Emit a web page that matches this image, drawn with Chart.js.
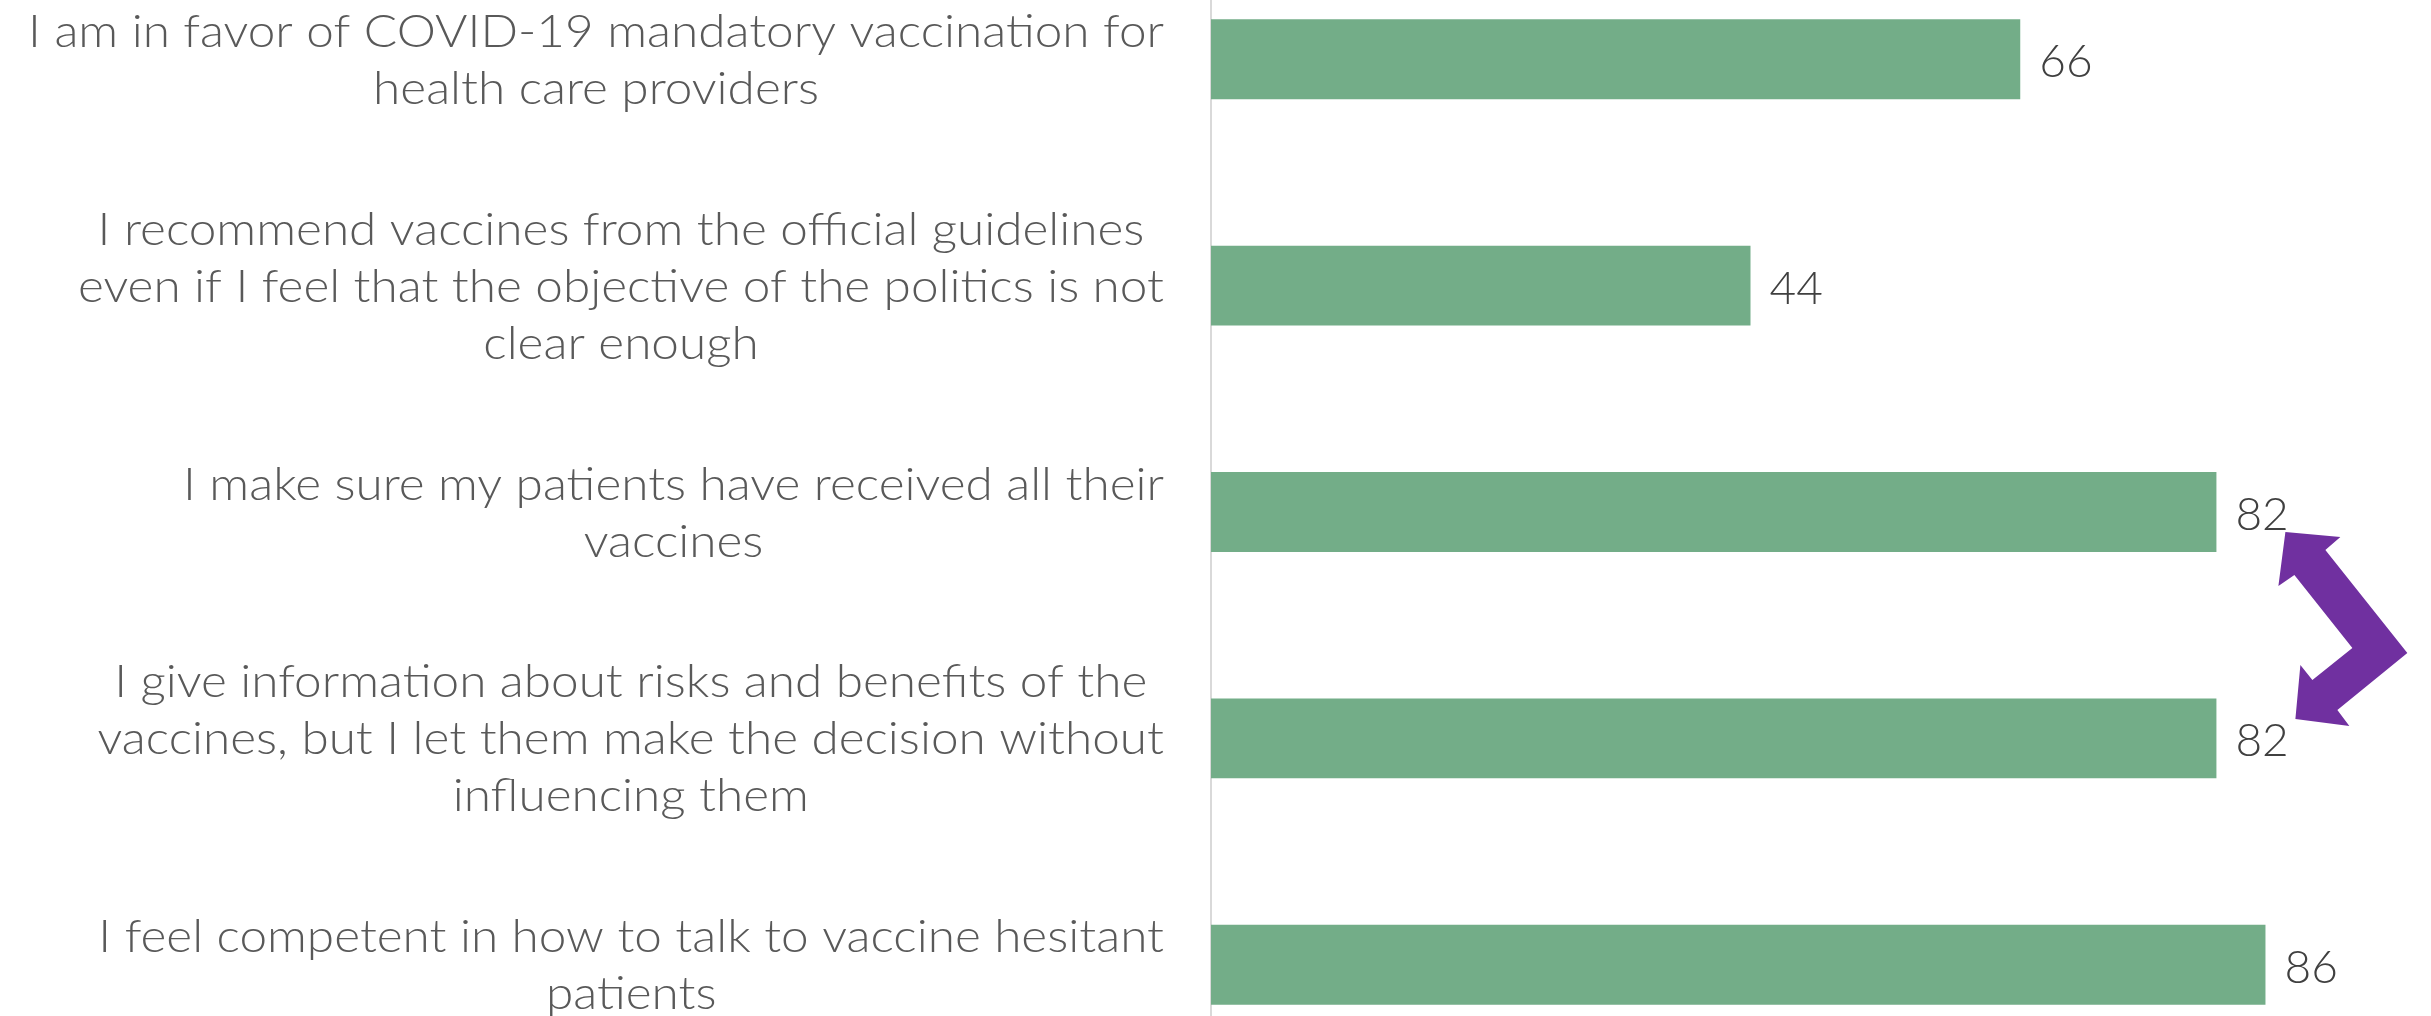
<!DOCTYPE html>
<html>
<head>
<meta charset="utf-8">
<script src="https://cdn.jsdelivr.net/npm/chart.js@4.4.0/dist/chart.umd.min.js"></script>
<style>
  html, body { margin: 0; padding: 0; background: #fff; overflow: hidden; }
  body { width: 2431px; height: 1016px; position: relative; }
  #wrap { position: absolute; left: 0; top: -54px; width: 2431px; height: 1132px; }
</style>
</head>
<body>
<div id="wrap"><canvas id="chart"></canvas></div>
<script>
const statements = [
  ["I am in favor of COVID-19 mandatory vaccination for", "health care providers"],
  ["I recommend vaccines from the official guidelines", "even if I feel that the objective of the politics is not", "clear enough"],
  ["I make sure my patients have received all their", "vaccines"],
  ["I give information about risks and benefits of the", "vaccines, but I let them make the decision without", "influencing them"],
  ["I feel competent in how to talk to vaccine hesitant", "patients"]
];
const agreePct = [66, 44, 82, 82, 86];
// bars joined by the purple arrow
const arrowPair = [2, 3];

const FONT = "Lato, 'Open Sans', sans-serif";

// category labels, each centred on its own widest line, right edge aligned
const labelPlugin = {
  id: "statementLabels",
  afterDraw(chart) {
    const ctx = chart.ctx;
    const yScale = chart.scales.y;
    const rightEdge = yScale.right - 47;
    const lineH = 57;
    const stretch = 1.1; // the original face is wider than Lato
    ctx.save();
    ctx.font = "300 45px " + FONT;
    ctx.fillStyle = "#595959";
    ctx.textAlign = "center";
    ctx.textBaseline = "alphabetic";
    statements.forEach((lines, i) => {
      const yc = yScale.getPixelForValue(i);
      const widest = Math.max(...lines.map(l => ctx.measureText(l).width)) * stretch;
      const xc = rightEdge - widest / 2;
      // baseline of first line, cap height ~32px centred on the row
      const y0 = yc + 16 - (lines.length - 1) * lineH / 2;
      lines.forEach((l, j) => {
        ctx.save();
        ctx.translate(xc, y0 + j * lineH);
        ctx.scale(stretch, 1);
        ctx.fillText(l, 0, 0);
        ctx.restore();
      });
    });
    ctx.restore();
  }
};

const valuePlugin = {
  id: "valueLabels",
  afterDatasetsDraw(chart) {
    const ctx = chart.ctx;
    const meta = chart.getDatasetMeta(0);
    ctx.save();
    ctx.font = "300 46px " + FONT;
    ctx.fillStyle = "#404040";
    ctx.textAlign = "left";
    ctx.textBaseline = "alphabetic";
    meta.data.forEach((bar, i) => {
      ctx.fillText(String(agreePct[i]), bar.x + 19, bar.y + 18);
    });
    ctx.restore();
  }
};

const arrowPlugin = {
  id: "pairArrow",
  afterDraw(chart) {
    const meta = chart.getDatasetMeta(0);
    const a = meta.data[arrowPair[0]];
    const b = meta.data[arrowPair[1]];
    const x0 = a.x, y0 = a.y;
    const k = (b.y - a.y) / 226.5;
    const pts = [
      [69, 20], [124, 25], [109, 38], [191, 141], [121, 198], [133, 214],
      [79, 207], [84, 153], [96, 168], [136, 136], [78, 63], [62, 74]
    ];
    const ctx = chart.ctx;
    ctx.save();
    ctx.fillStyle = "#7030A0";
    ctx.beginPath();
    pts.forEach((p, i) => {
      const px = x0 + p[0] * k, py = y0 + p[1] * k;
      if (i === 0) ctx.moveTo(px, py); else ctx.lineTo(px, py);
    });
    ctx.closePath();
    ctx.fill();
    ctx.restore();
  }
};

new Chart(document.getElementById("chart"), {
  type: "bar",
  data: {
    labels: statements.map(s => s.join(" ")),
    datasets: [{
      data: agreePct,
      backgroundColor: "#73AD88",
      borderWidth: 0,
      barPercentage: 0.353,
      categoryPercentage: 1
    }]
  },
  options: {
    indexAxis: "y",
    responsive: true,
    maintainAspectRatio: false,
    animation: false,
    layout: { padding: 0 },
    plugins: {
      legend: { display: false },
      tooltip: { enabled: false }
    },
    scales: {
      x: {
        display: false,
        min: 0,
        max: 99.5
      },
      y: {
        grid: { display: false },
        border: { display: true, color: "#D9D9D9", width: 2 },
        ticks: { display: false },
        afterFit(scale) { scale.width = 1211; }
      }
    }
  },
  plugins: [labelPlugin, valuePlugin, arrowPlugin]
});
</script>
</body>
</html>
